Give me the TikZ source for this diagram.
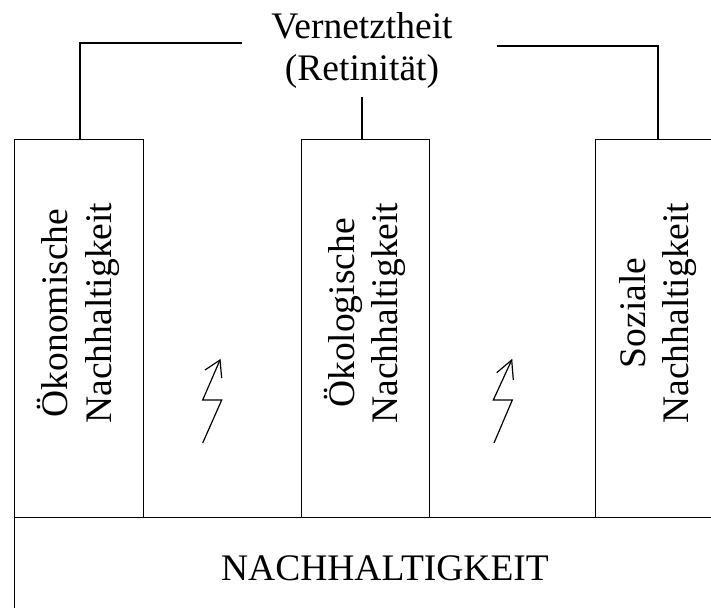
\documentclass[tikz,border=0pt]{standalone}
\usepackage{fontspec}
\setmainfont{Liberation Serif}
\begin{document}
\begin{tikzpicture}[x=1pt,y=-1pt,
  pillar/.style={draw,line width=1.3pt,minimum width=129pt,minimum height=378pt,inner sep=0pt},
  vlabel/.style={rotate=90,align=center,inner sep=0pt,font=\fontsize{37.5}{43.5}\selectfont},
  hlabel/.style={align=center,inner sep=0pt,font=\fontsize{37.5}{42}\selectfont},
  link/.style={line width=1.3pt},
  bolt/.style={line width=1.2pt,line join=miter}]
\useasboundingbox (0,0) rectangle (711,607);
\clip (0,0) rectangle (711,607);

% base
\node[draw,line width=1.3pt,minimum width=742pt,minimum height=120pt,anchor=north west] (base) at (14,517) {};
\node[hlabel,anchor=base] (basetext) at (385,580) {NACHHALTIGKEIT};

% three pillars
\node[pillar,anchor=north west] (oek) at (14,139) {};
\node[pillar,anchor=north west,minimum width=128pt] (oeko) at (301,139) {};
\node[pillar,anchor=north west,minimum width=126pt] (soz) at (595,139) {};

\node[vlabel] (oektext) at (78.5,313) {Ökonomische\\Nachhaltigkeit};
\node[vlabel] (oekotext) at (365,313) {Ökologische\\Nachhaltigkeit};
\node[vlabel] (soztext) at (658,313) {Soziale\\Nachhaltigkeit};

% network heading and its links
\node[hlabel,anchor=base] (vern) at (362,39) {Vernetztheit};
\node[hlabel,anchor=base] (ret) at (362,81) {(Retinität)};
\coordinate (tl) at (242,43);
\coordinate (tr) at (497,46);
\draw[link] (tl) -| ([xshift=66pt]oek.north west);
\draw[link] (tr) -| ([xshift=63pt]soz.north west);
\draw[link] ([xshift=61pt]oeko.north west) -- ++(0,-42);

% tension bolts
\draw[bolt] (202.7,443) -- (221.7,400) -- (202.7,400) -- (220,360);
\draw[bolt] (205,370) -- (220,360) -- (221.7,378);
\draw[bolt] (494,443) -- (512.3,400) -- (493.3,400) -- (511.7,360);
\draw[bolt] (496.7,372.7) -- (511.7,360) -- (513.3,380);
\end{tikzpicture}
\end{document}
